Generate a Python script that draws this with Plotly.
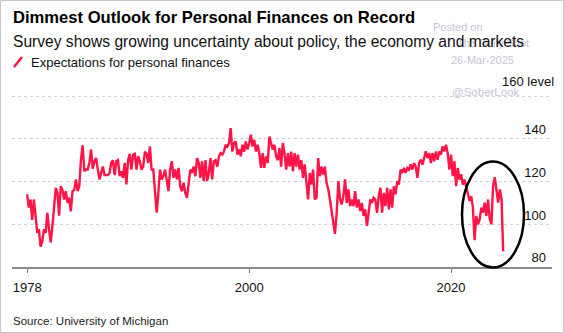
import pandas as pd
import plotly.graph_objects as go

# ---- data (bi-monthly readings, Jan 1978 .. Mar 2025) ----
start_date = "1978-01-01"
seg_1978_1985 = [114, 107.8, 111.6, 102, 111.6, 104, 96, 97.7, 89.5, 92, 97.7, 96, 105.4, 97.7, 91.5, 99,
                 107.8, 117, 114.7, 104, 117.8, 116, 111.6, 115.5, 110, 112.4, 106, 115.5, 116, 121, 115.5,
                 117.8, 130, 137, 124.8, 125.6, 125.6, 128.7, 135, 126, 129.5, 131, 125.6, 121, 124, 127]
seg_1985_1993 = [123, 123, 123, 124, 128.7, 130, 123, 129.5, 130, 122.5, 124.8, 121.7, 128.7, 118.6, 130,
                 133, 125.6, 132.6, 133, 125.6, 131.8, 129.5, 125.6, 127, 134, 133, 128.7, 136.4, 125.6,
                 125.6, 114.7, 105.4, 114.7, 125.6, 121, 122.5, 125.6, 119.4, 115.5, 125.6, 129.5, 121.7,
                 125.6, 121, 126.4, 117.8, 115.5]
seg_1993_2001 = [119.4, 114.7, 112.4, 119.4, 125.6, 124, 127, 122.5, 131, 128.7, 121.7, 129.5, 120.2, 130,
                 120.2, 124, 131, 121, 129.5, 130, 127, 131.8, 133.3, 132.6, 134, 137.2, 136.4, 138, 145,
                 134, 138, 138.8, 132.6, 135, 131.8, 137.2, 134, 138.8, 135, 138, 141.9, 136.4, 139.5, 134,
                 137.2, 133.3, 126.4]
seg_2001_2008 = [133.3, 126.4, 131.8, 128.7, 141, 137.2, 135, 137.2, 131.8, 130, 135.7, 127, 138, 133.3,
                 125.6, 133.3, 127, 134, 124.8, 133.3, 127, 132.6, 125.6, 130, 121.7, 128, 117.8, 111.6,
                 124, 118.6, 125.6, 111.6, 112.4, 131, 122.5, 127, 123.3, 127, 119.4, 116.3, 111.6, 105.4,
                 99.2, 95.5, 105.4, 120.2]
seg_2009_2016 = [111.6, 109.3, 113.2, 121, 110, 116.3, 108.5, 111.6, 108.5, 115.5, 107.8, 111.6, 106.2,
                 110, 103.9, 107, 99.2, 105.4, 111.6, 110, 112.4, 111.6, 105.4, 113.2, 117.1, 105.4, 114.7,
                 108.5, 117.1, 107, 116.3, 107.8, 117.8, 114, 120.2, 118.6, 125.6, 124, 126.4, 124, 126.4,
                 125.6, 128, 125.6, 128.7, 127]
seg_2016_2025 = [121.7, 128.7, 130.2, 127.9, 131.8, 134.1, 131, 133.3, 128.7, 133.3, 129.5, 134.1, 130.2,
                 134.1, 132.6, 136.4, 134.1, 137.2, 133.3, 125.6, 132.6, 122.5, 129.5, 117.8, 126.4, 120.9,
                 123.3, 118.6, 120.9, 117.1, 114, 110.9, 113.2, 107.8, 92.5, 103.9, 100, 102.3, 107.8,
                 105.4, 110.1, 103.9, 111.6, 102.3, 100, 118, 122, 115.5, 110.1, 116.3, 111.6, 87.4]
values = seg_1978_1985 + seg_1985_1993 + seg_1993_2001 + seg_2001_2008 + seg_2009_2016 + seg_2016_2025
dates = pd.date_range(start_date, periods=len(values), freq="2MS")

tick_years = ["1978-01-01", "2000-01-01", "2020-01-01"]
tick_year_labels = ["1978", "2000", "2020"]
y_ticks = [80, 100, 120, 140, 160]
y_tick_labels = ["80", "100", "120", "140", ""]
top_tick_label = "160 level"

title = "Dimmest Outlook for Personal Finances on Record"
subtitle = "Survey shows growing uncertainty about policy, the economy and markets"
series_name = "Expectations for personal finances"
source = "Source: University of Michigan"

RED = "#ff1447"
FONT = "Liberation Sans, Arial, Helvetica, sans-serif"

# plot-area geometry in pixels
CW, CH = 564, 333
L, R, T, B = 12, 552, 95, 267
W, H = R - L, B - T
def px(x):
    return (x - L) / W
def py(y):
    return (B - y) / H

fig = go.Figure()
fig.add_trace(go.Scatter(x=dates, y=values, mode="lines", name=series_name,
                         line=dict(color=RED, width=2.4), showlegend=False,
                         hoverinfo="skip"))

fig.update_layout(
    width=CW, height=CH,
    margin=dict(l=L, r=CW - R, t=T, b=CH - B, pad=0),
    paper_bgcolor="white", plot_bgcolor="white",
    font=dict(family=FONT, color="#111", size=12),
    xaxis=dict(
        type="date", range=["1976-07-01", "2030-01-01"],
        tickvals=tick_years, ticktext=tick_year_labels,
        showgrid=False, zeroline=False,
        showline=True, linecolor="#8c8c8c", linewidth=2,
        ticks="outside", ticklen=4, tickcolor="#777", tickwidth=1,
        ticklabelstandoff=3,
        tickfont=dict(size=13, color="#111"),
    ),
    yaxis=dict(
        range=[80, 160.5], side="right",
        tickvals=y_ticks, ticktext=y_tick_labels,
        ticklabelposition="inside top", ticklabelstandoff=3,
        showgrid=True, gridcolor="#cfcfcf", griddash="dot", gridwidth=1,
        zeroline=False, showline=False, ticks="",
        tickfont=dict(size=13, color="#111"),
    ),
)

anns = []
# watermark (behind)
wm = "#c6c6d6"
anns.append(dict(text="Posted on", x=px(458), y=py(27), xanchor="center", yanchor="middle", font=dict(size=11, color=wm)))
anns.append(dict(text="The Daily Shot", x=px(493), y=py(43), xanchor="center", yanchor="middle", font=dict(size=11, color=wm)))
anns.append(dict(text="26-Mar-2025", x=px(482), y=py(60), xanchor="center", yanchor="middle", font=dict(size=11, color=wm)))
anns.append(dict(text="@SoberLook", x=px(486), y=py(92), xanchor="center", yanchor="middle", font=dict(size=11.5, color=wm)))
# titles
anns.append(dict(text="<b>" + title + "</b>", x=px(11), y=py(17), xanchor="left", yanchor="middle",
                 font=dict(size=16.6, color="#000")))
anns.append(dict(text=subtitle, x=px(11), y=py(41.5), xanchor="left", yanchor="middle",
                 font=dict(size=15.6, color="#111")))
anns.append(dict(text=series_name, x=px(28.5), y=py(62.5), xanchor="left", yanchor="middle",
                 font=dict(size=13, color="#111")))
anns.append(dict(text=source, x=px(11), y=py(320.5), xanchor="left", yanchor="middle",
                 font=dict(size=11.5, color="#222")))
# top axis label (kept as annotation: plotly hides inside labels above the plot top)
anns.append(dict(text=top_tick_label, x=px(556), y=py(81.5), xanchor="right", yanchor="middle",
                 font=dict(size=13, color="#111")))
for a in anns:
    a.update(xref="paper", yref="paper", showarrow=False)
fig.update_layout(annotations=anns)

shapes = [
    # legend slash
    dict(type="line", xref="paper", yref="paper", x0=px(14), y0=py(67), x1=px(22), y1=py(57),
         line=dict(color=RED, width=2.5)),
    # highlight ellipse
    dict(type="circle", xref="paper", yref="paper", x0=px(462), x1=px(524), y0=py(267.5), y1=py(161.5),
         line=dict(color="#000", width=2.5)),
    # outer border
    dict(type="rect", xref="paper", yref="paper", x0=px(0.5), x1=px(CW - 0.5), y0=py(CH - 0.5), y1=py(0.5),
         line=dict(color="#c8c8c8", width=1)),
]
fig.update_layout(shapes=shapes)

fig.write_html("out.html")
